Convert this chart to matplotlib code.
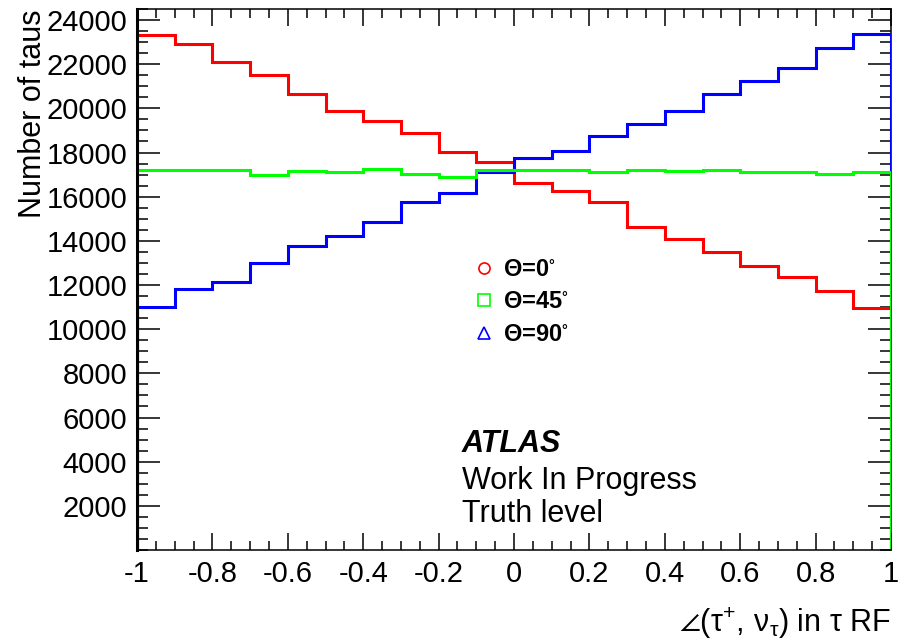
import numpy as np
import matplotlib
matplotlib.use("Agg")
import matplotlib.pyplot as plt
from matplotlib.lines import Line2D
from matplotlib.ticker import MultipleLocator

plt.rcParams['font.family'] = ['Liberation Sans', 'DejaVu Sans']
plt.rcParams['mathtext.fontset'] = 'custom'
plt.rcParams['mathtext.rm'] = 'Liberation Sans'
plt.rcParams['mathtext.it'] = 'Liberation Sans:italic'
plt.rcParams['mathtext.bf'] = 'Liberation Sans:bold'
plt.rcParams['mathtext.fallback'] = 'stixsans'

# 20 bins in the angle between tau+ and nu_tau (tau rest frame)
edges = np.linspace(-1, 1, 21)

theta0 = [23300, 22900, 22100, 21500, 20630, 19890, 19440, 18900, 18040, 17560,
          16600, 16260, 15740, 14620, 14100, 13510, 12840, 12380, 11710, 10960]
theta45 = [17210, 17210, 17210, 16970, 17170, 17120, 17270, 17010, 16910, 17200,
           17210, 17210, 17120, 17200, 17170, 17210, 17110, 17110, 17030, 17120]
theta90 = [11000, 11800, 12130, 12990, 13760, 14240, 14850, 15770, 16150, 17140,
           17740, 18080, 18750, 19290, 19860, 20630, 21230, 21820, 22740, 23360]

labels = [r"$\mathbf{\Theta}$=0$^{\circ}$", r"$\mathbf{\Theta}$=45$^{\circ}$",
          r"$\mathbf{\Theta}$=90$^{\circ}$"]
xtick_labels = ['-1', '-0.8', '-0.6', '-0.4', '-0.2', '0', '0.2', '0.4', '0.6', '0.8', '1']

fig = plt.figure(figsize=(9.06, 6.42), dpi=100)
ax = fig.add_axes([137/906, 1 - 550/642, 754/906, 541/642])

ax.stairs(theta0, edges, baseline=0, color='#ff0000', lw=2.2, zorder=2)
ax.stairs(theta90, edges, baseline=0, color='#0000ff', lw=2.2, zorder=3)
ax.stairs(theta45, edges, baseline=0, color='#00ff00', lw=2.2, zorder=4)

ax.set_xlim(-1, 1)
ax.set_ylim(0, 24500)

ax.set_xticks(np.linspace(-1, 1, 11), xtick_labels)
ax.xaxis.set_minor_locator(MultipleLocator(0.05))
ax.set_yticks(np.arange(2000, 24001, 2000))
ax.yaxis.set_minor_locator(MultipleLocator(500))

ax.tick_params(which='both', direction='in', top=True, right=True, width=1.1,
               labelsize=21, pad=7)
ax.tick_params(axis='x', which='major', length=12)
ax.tick_params(axis='x', which='minor', length=6.5)
ax.tick_params(axis='y', which='major', length=16.5)
ax.tick_params(axis='y', which='minor', length=8)
for name, s in ax.spines.items():
    s.set_linewidth(1.1)
    s.set_zorder(1 if name == 'right' else 6)
# the histogram edges at x=-1 sit under the frame, as in ROOT
ax.spines['left'].set_linewidth(2.2)

ax.set_ylabel("Number of taus", fontsize=22, loc='top')
ax.yaxis.set_label_coords(-0.118, 1.0)
ax.set_xlabel(r"$\angle(\mathrm{\tau}^{+},\,\mathrm{\nu}_{\mathrm{\tau}})$ in $\mathrm{\tau}$ RF",
              fontsize=22, loc='right')
ax.xaxis.set_label_coords(1.0, -0.102)

handles = [
    Line2D([], [], ls='none', marker='o', mfc='none', mec='#ff0000', ms=8, mew=1.2),
    Line2D([], [], ls='none', marker='s', mfc='none', mec='#00ff00', ms=8, mew=1.2),
    Line2D([], [], ls='none', marker='^', mfc='none', mec='#0000ff', ms=8, mew=1.2),
]
ax.legend(handles, labels, loc='center left', bbox_to_anchor=(472/906, 1 - 302/642),
          bbox_transform=fig.transFigure, frameon=False, numpoints=1,
          prop={'size': 17, 'weight': 'bold'},
          handlelength=1.0, handletextpad=0.3, labelspacing=0.4, borderpad=0,
          borderaxespad=0)

ax.text(0.431, 0.181, "ATLAS", transform=ax.transAxes, fontsize=22,
        fontweight='bold', fontstyle='italic', va='baseline')
ax.text(0.431, 0.113, "Work In Progress", transform=ax.transAxes, fontsize=22,
        va='baseline')
ax.text(0.431, 0.052, "Truth level", transform=ax.transAxes, fontsize=22,
        va='baseline')

fig.savefig("out.png", dpi=100)
